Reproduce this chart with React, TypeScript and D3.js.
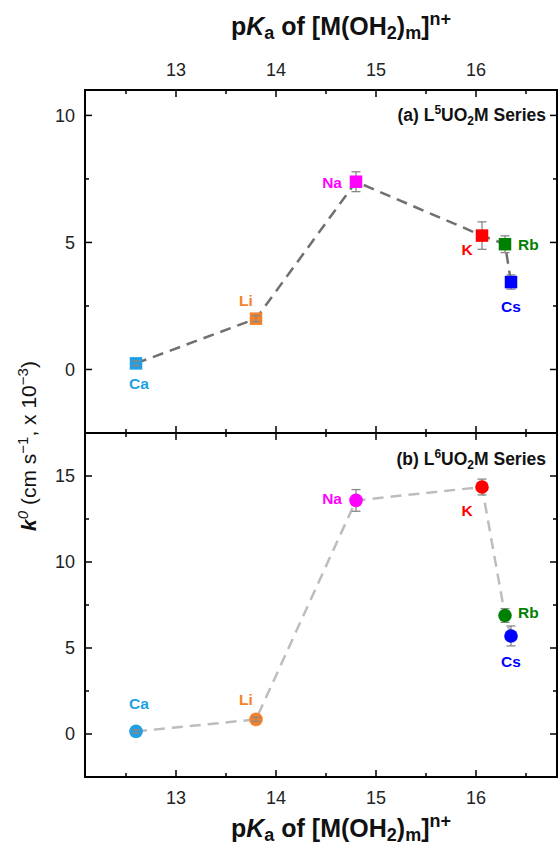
import React from "react";
import * as d3 from "d3";

const elements = ["Ca", "Li", "Na", "K", "Rb", "Cs"];
const pKa = [12.6, 13.8, 14.8, 16.06, 16.29, 16.35];
const k0L5 = [0.24, 2.0, 7.39, 5.27, 4.93, 3.44];
const errL5 = [0.1, 0.12, 0.39, 0.54, 0.33, 0.28];
const k0L6 = [0.15, 0.85, 13.58, 14.36, 6.89, 5.7];
const errL6 = [0.1, 0.12, 0.63, 0.46, 0.4, 0.58];
const colors = ["#1e9fe6", "#f5822a", "#ff00ff", "#ff0000", "#008000", "#0000ff"];
const xTicks = [13, 14, 15, 16];
const yTicksTop = [0, 5, 10];
const yTicksBottom = [0, 5, 10, 15];

// label placement (pixel offsets from the point)
const labelPosTop: [number, number, string][] = [
  [3, 26, "middle"], [-10, -13, "middle"], [-14, 6, "end"],
  [-15, 19, "middle"], [13, 6, "start"], [0, 30, "middle"],
];
const labelPosBottom: [number, number, string][] = [
  [3, -22, "middle"], [-10, -14, "middle"], [-14, 4, "end"],
  [-15, 29, "middle"], [13, 3, "start"], [0, 31, "middle"],
];

const W = 558, H = 849;
const L = 85, R = 557, T = 90, MID = 433, B = 777;
const FONT = "Liberation Sans, Arial, sans-serif";

const x = d3.scaleLinear().domain([12.09, 16.81]).range([L, R]);
const yTop = d3.scaleLinear().domain([-2.5, 11]).range([MID, T]);
const yBot = d3.scaleLinear().domain([-2.5, 17.5]).range([B, MID]);

function Panel({ y, ticks, vals, errs, labelPos, shape, lineColor, top, bottom, note, noteY }: any) {
  const minorX = d3.range(12.5, 16.81, 0.5);
  const minorY = d3.range(-2.5, y.domain()[1] + 0.01, 2.5).filter((v: number) => v > y.domain()[0]);
  const line = d3.line<number>().x((_, i) => x(pKa[i])).y((v) => y(v));
  const items: any[] = [];
  minorX.forEach((v: number, i: number) => {
    const major = Math.abs(v - Math.round(v)) < 1e-6;
    const len = major ? 7 : 4;
    items.push(<line key={"tx" + i} x1={x(v)} x2={x(v)} y1={top} y2={top + len} stroke="#000" strokeWidth={1.5} />);
    items.push(<line key={"bx" + i} x1={x(v)} x2={x(v)} y1={bottom} y2={bottom - len} stroke="#000" strokeWidth={1.5} />);
  });
  minorY.forEach((v: number, i: number) => {
    const major = Math.abs(v / 5 - Math.round(v / 5)) < 1e-6;
    const len = major ? 7 : 4;
    items.push(<line key={"ly" + i} x1={L} x2={L + len} y1={y(v)} y2={y(v)} stroke="#000" strokeWidth={1.5} />);
    items.push(<line key={"ry" + i} x1={R} x2={R - len} y1={y(v)} y2={y(v)} stroke="#000" strokeWidth={1.5} />);
  });
  const size = 12.5;
  const r = 6.8;
  return (
    <g>
      {items}
      <path d={line(vals) || ""} fill="none" stroke={lineColor} strokeWidth={2.5} strokeDasharray="11,7" />
      {vals.map((v: number, i: number) => {
        const cx = x(pKa[i]);
        const y1 = y(v + errs[i]), y2 = y(v - errs[i]);
        const onTop = (y2 - y1) / 2 < size / 2;
        const eb = (
          <g stroke="#888" strokeWidth={1.3}>
            <line x1={cx} x2={cx} y1={y1} y2={y2} />
            <line x1={cx - 4.5} x2={cx + 4.5} y1={y1} y2={y1} />
            <line x1={cx - 4.5} x2={cx + 4.5} y1={y2} y2={y2} />
          </g>
        );
        const mk = shape === "square"
          ? <rect x={cx - size / 2} y={y(v) - size / 2} width={size} height={size} fill={colors[i]} />
          : <circle cx={cx} cy={y(v)} r={r} fill={colors[i]} />;
        return (
          <g key={"p" + i}>
            {!onTop && eb}
            {mk}
            {onTop && eb}
          </g>
        );
      })}
      {vals.map((v: number, i: number) => (
        <text key={"l" + i} x={x(pKa[i]) + labelPos[i][0]} y={y(v) + labelPos[i][1]}
          textAnchor={labelPos[i][2]} fill={colors[i]} fontFamily={FONT} fontWeight="bold" fontSize={15.5}>
          {elements[i]}
        </text>
      ))}
      {ticks.map((t: number) => (
        <text key={"yt" + t} x={75} y={y(t)} dy="0.35em" textAnchor="end" fontFamily={FONT} fontSize={18} fill="#222">{t}</text>
      ))}
      <text x={546} y={noteY} textAnchor="end" fontFamily={FONT} fontWeight="bold" fontSize={17.5} fill="#111">
        {note[0]}<tspan dy={-7} fontSize={12}>{note[1]}</tspan><tspan dy={7}>UO</tspan><tspan dy={4} fontSize={12}>2</tspan><tspan dy={-4}>M Series</tspan>
      </text>
    </g>
  );
}

function XTitle({ yPos }: { yPos: number }) {
  return (
    <text x={341} y={yPos} textAnchor="middle" fontFamily={FONT} fontWeight="bold" fontSize={25} fill="#111">
      p<tspan fontStyle="italic">K</tspan><tspan dy={4} fontSize={18}>a</tspan><tspan dy={-4}> of [M(OH</tspan>
      <tspan dy={4} fontSize={18}>2</tspan><tspan dy={-4}>)</tspan><tspan dy={4} fontSize={18}>m</tspan>
      <tspan dy={-4}>]</tspan><tspan dy={-10} fontSize={18}>n+</tspan>
    </text>
  );
}

export default function App() {
  return (
    <svg width={W} height={H} style={{ position: "absolute", left: 0, top: 0, background: "#fff" }}>
      <rect x={0} y={0} width={W} height={H} fill="#fff" />
      <Panel y={yTop} ticks={yTicksTop} vals={k0L5} errs={errL5} labelPos={labelPosTop} shape="square" lineColor="#707070"
        top={T} bottom={MID} note={["(a) L", "5"]} noteY={121} />
      <Panel y={yBot} ticks={yTicksBottom} vals={k0L6} errs={errL6} labelPos={labelPosBottom} shape="circle" lineColor="#bdbdbd"
        top={MID} bottom={B} note={["(b) L", "6"]} noteY={465} />
      <rect x={L} y={T} width={R - L} height={B - T} fill="none" stroke="#000" strokeWidth={2} />
      <line x1={L} x2={R} y1={MID} y2={MID} stroke="#000" strokeWidth={2} />
      {xTicks.map((t) => (
        <g key={t}>
          <text x={x(t)} y={76} textAnchor="middle" fontFamily={FONT} fontSize={18} fill="#222">{t}</text>
          <text x={x(t)} y={804} textAnchor="middle" fontFamily={FONT} fontSize={18} fill="#222">{t}</text>
        </g>
      ))}
      <XTitle yPos={35} />
      <XTitle yPos={837} />
      <text transform="translate(36,446) rotate(-90)" textAnchor="middle" fontFamily={FONT} fontSize={21} fill="#111">
        <tspan fontWeight="bold" fontStyle="italic">k</tspan><tspan dy={-8} fontSize={15} fontStyle="italic">0</tspan>
        <tspan dy={8}> (cm s</tspan><tspan dy={-8} fontSize={15}>−1</tspan><tspan dy={8}>, x 10</tspan>
        <tspan dy={-8} fontSize={15}>−3</tspan><tspan dy={8}>)</tspan>
      </text>
    </svg>
  );
}
